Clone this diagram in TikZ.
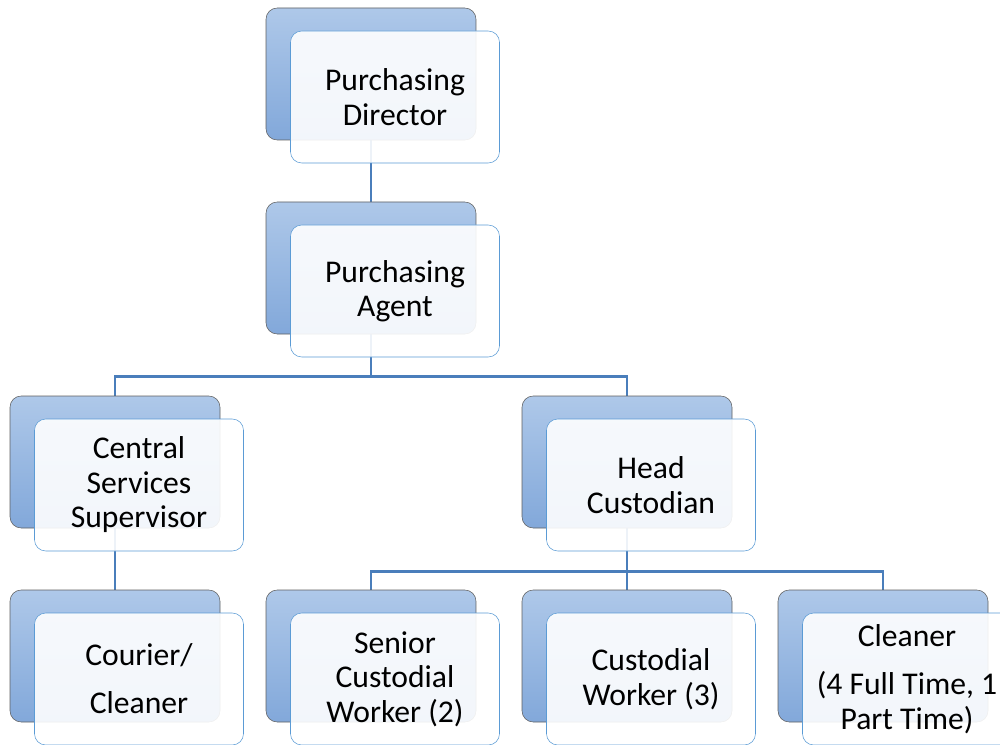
\documentclass[tikz,border=0pt]{standalone}
\usepackage{fontspec}
\setmainfont{Carlito}
\usepackage{tikz}
\usetikzlibrary{positioning,backgrounds}
\definecolor{cardtop}{RGB}{174,200,233}
\definecolor{cardbottom}{RGB}{130,168,218}
\definecolor{cardedge}{RGB}{95,95,95}
\definecolor{frontedge}{RGB}{91,155,213}
\definecolor{linkblue}{RGB}{74,126,187}
\tikzset{
    backcard/.style={rectangle, rounded corners=8pt, draw=cardedge, thin, top color=cardtop, bottom color=cardbottom, minimum width=5.25cm, minimum height=3.3cm, inner sep=0pt},
    frontcard/.style={rectangle, rounded corners=8pt, draw=frontedge, thin, fill=white, fill opacity=0.9, text opacity=1, minimum width=5.225cm, minimum height=3.3cm, inner sep=0pt, align=center, font=\fontsize{22.5}{24.5}\selectfont},
    link/.style={draw=linkblue, line width=2pt},
}

\begin{document}
\begin{tikzpicture}
    \useasboundingbox (0,0) rectangle (25,-18.625);
    \clip (0,0) rectangle (25,-18.625);

    % top two levels
    \node[backcard] (dirB) at (9.275,-1.85) {};
    \node[frontcard] (dirF) at ([shift={(0.6,-0.575)}]dirB) {Purchasing\\Director};
    \node[backcard] (agtB) at (9.275,-6.7) {};
    \node[frontcard] (agtF) at ([shift={(0.6,-0.575)}]agtB) {Purchasing\\Agent};

    % supervisors
    \node[backcard] (csB) at (2.875,-11.55) {};
    \node[frontcard] (csF) at ([shift={(0.6,-0.575)}]csB) {Central\\Services\\Supervisor};
    \node[backcard] (hcB) at (15.675,-11.55) {};
    \node[frontcard] (hcF) at ([shift={(0.6,-0.575)}]hcB) {Head\\Custodian};

    % staff
    \foreach \x/\name/\txt in {2.875/cour/{Courier/\\[9.5pt]Cleaner}, 9.275/scw/{Senior\\Custodial\\Worker (2)}, 15.675/cw/{Custodial\\Worker (3)}, 22.075/cln/{Cleaner\\[10pt](4 Full Time, 1\\Part Time)}} {
        \node[backcard] (\name B) at (\x,-16.4) {};
        \node[frontcard] (\name F) at ([shift={(0.6,-0.575)}]\name B) {\txt};
    }

    \begin{scope}[on background layer]
        \draw[link] (dirB.south) -- (agtB.north);
        \draw[link] (agtB.south) -- ++(0,-1.05) -| (csB.north);
        \draw[link] (agtB.south) -- ++(0,-1.05) -| (hcB.north);
        \draw[link] (csB.south) -- (courB.north);
        \draw[link] (hcB.south) -- ++(0,-1.075) -| (scwB.north);
        \draw[link] (hcB.south) -- (cwB.north);
        \draw[link] (hcB.south) -- ++(0,-1.075) -| (clnB.north);
    \end{scope}
\end{tikzpicture}
\end{document}
